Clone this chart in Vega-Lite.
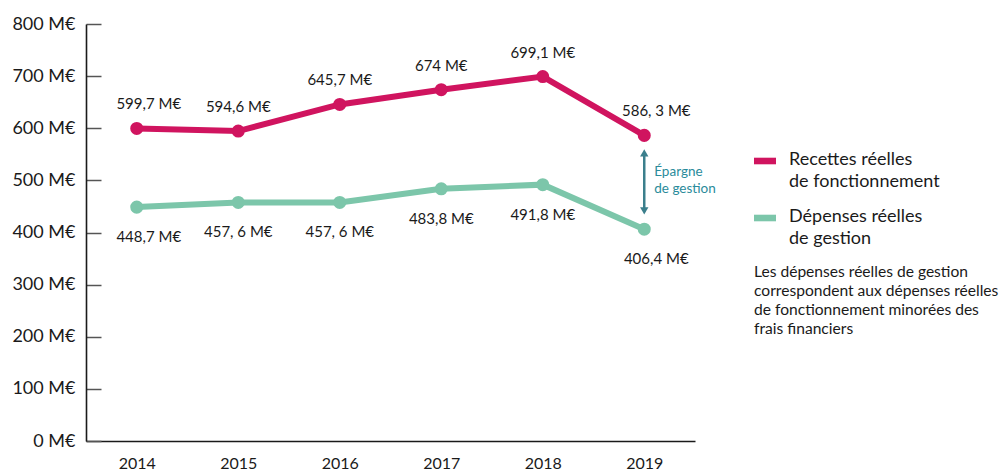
{
  "$schema": "https://vega.github.io/schema/vega-lite/v6.json",
  "width": 609,
  "height": 417,
  "autosize": {"type": "none"},
  "padding": {"left": 86, "top": 24, "right": 310, "bottom": 28},
  "background": "white",
  "config": {"view": {"stroke": null}, "font": "Lato"},
  "title": {
    "text": ["Les dépenses réelles de gestion", "correspondent aux dépenses réelles", "de fonctionnement minorées des", "frais financiers"],
    "anchor": "start",
    "frame": "group",
    "orient": "top",
    "dx": 668,
    "dy": 323,
    "offset": 0,
    "fontSize": 15.6,
    "fontWeight": "normal",
    "lineHeight": 19,
    "color": "#1a1a1a",
    "font": "Lato",
    "baseline": "top"
  },
  "datasets": {
    "series": [
      {"year": "2014", "series": "Recettes réelles|de fonctionnement", "value": 599.7, "label": "599,7 M€"},
      {"year": "2015", "series": "Recettes réelles|de fonctionnement", "value": 594.6, "label": "594,6 M€"},
      {"year": "2016", "series": "Recettes réelles|de fonctionnement", "value": 645.7, "label": "645,7 M€"},
      {"year": "2017", "series": "Recettes réelles|de fonctionnement", "value": 674.0, "label": "674 M€"},
      {"year": "2018", "series": "Recettes réelles|de fonctionnement", "value": 699.1, "label": "699,1 M€"},
      {"year": "2019", "series": "Recettes réelles|de fonctionnement", "value": 586.3, "label": "586, 3 M€"},
      {"year": "2014", "series": "Dépenses réelles|de gestion", "value": 448.7, "label": "448,7 M€"},
      {"year": "2015", "series": "Dépenses réelles|de gestion", "value": 457.6, "label": "457, 6 M€"},
      {"year": "2016", "series": "Dépenses réelles|de gestion", "value": 457.6, "label": "457, 6 M€"},
      {"year": "2017", "series": "Dépenses réelles|de gestion", "value": 483.8, "label": "483,8 M€"},
      {"year": "2018", "series": "Dépenses réelles|de gestion", "value": 491.8, "label": "491,8 M€"},
      {"year": "2019", "series": "Dépenses réelles|de gestion", "value": 406.4, "label": "406,4 M€"}
    ],
    "arrow": [
      {"year": "2019", "top": 549, "bottom": 440}
    ],
    "heads": [
      {"year": "2019", "value": 552.6, "shape": "triangle-up"},
      {"year": "2019", "value": 441.3, "shape": "triangle-down"}
    ],
    "note": [
      {"year": "2019", "value": 500, "text": "Épargne|de gestion"}
    ]
  },
  "encoding": {
    "x": {
      "field": "year",
      "type": "ordinal",
      "scale": {"type": "point", "padding": 0.5},
      "axis": {
        "title": null,
        "labelAngle": 0,
        "ticks": false,
        "domainColor": "#1a1a1a",
        "domainWidth": 1.6,
        "labelFontSize": 16,
        "labelColor": "#1a1a1a",
        "labelPadding": 14,
        "labelBaseline": "top"
      }
    }
  },
  "layer": [
    {
      "data": {"name": "series"},
      "mark": {"type": "line", "strokeWidth": 6},
      "encoding": {
        "y": {
          "field": "value",
          "type": "quantitative",
          "scale": {"domain": [0, 800], "nice": false},
          "axis": {
            "title": null,
            "values": [0, 100, 200, 300, 400, 500, 600, 700, 800],
            "labelExpr": "datum.value + ' M€'",
            "grid": false,
            "domainColor": "#1a1a1a",
            "domainWidth": 1.6,
            "tickColor": "#555555",
            "tickWidth": 1.5,
            "tickSize": -15,
            "labelPadding": 26,
            "labelFontSize": 18,
            "labelColor": "#1a1a1a"
          }
        },
        "color": {
          "field": "series",
          "type": "nominal",
          "scale": {
            "domain": ["Recettes réelles|de fonctionnement", "Dépenses réelles|de gestion"],
            "range": ["#d0145f", "#7cc6aa"]
          },
          "legend": {
            "orient": "none",
            "legendX": 668,
            "legendY": 126,
            "title": null,
            "padding": 0,
            "symbolType": "M-1,-0.3L1,-0.3L1,0.3L-1,0.3Z",
            "symbolSize": 484,
            "symbolStrokeWidth": 0,
            "labelExpr": "split(datum.label, '|')",
            "labelFontSize": 18,
            "labelColor": "#1a1a1a",
            "labelOffset": 13,
            "labelBaseline": "top",
            "rowPadding": 16,
            "labelLimit": 300,
            "encode": {
              "labels": {"update": {"lineHeight": {"value": 22}, "dy": {"value": -10}}},
              "symbols": {"update": {"fill": {"scale": "color", "field": "value"}, "opacity": {"value": 1}}}
            }
          }
        }
      }
    },
    {
      "data": {"name": "series"},
      "mark": {"type": "point", "filled": true, "size": 170, "opacity": 1},
      "encoding": {
        "y": {"field": "value", "type": "quantitative"},
        "color": {"field": "series", "type": "nominal"}
      }
    },
    {
      "data": {"name": "series"},
      "mark": {
        "type": "text",
        "fontSize": 15,
        "color": "#1a1a1a",
        "baseline": "middle",
        "dy": {"expr": "indexof(datum.series, 'Recettes') == 0 ? -24 : 30"},
        "dx": {"expr": "datum.year == '2014' || datum.year == '2019' ? 12 : 0"}
      },
      "encoding": {
        "y": {"field": "value", "type": "quantitative"},
        "text": {"field": "label"}
      }
    },
    {
      "data": {"name": "arrow"},
      "mark": {"type": "rule", "strokeWidth": 2.5, "color": "#3b7f8c"},
      "encoding": {
        "y": {"field": "top", "type": "quantitative"},
        "y2": {"field": "bottom"}
      }
    },
    {
      "data": {"name": "heads"},
      "mark": {"type": "point", "filled": true, "size": 70, "color": "#3b7f8c", "opacity": 1},
      "encoding": {
        "y": {"field": "value", "type": "quantitative"},
        "shape": {"field": "shape", "type": "nominal", "scale": null, "legend": null}
      }
    },
    {
      "data": {"name": "note"},
      "mark": {
        "type": "text",
        "fontSize": 13.5,
        "color": "#2a8b9b",
        "align": "left",
        "baseline": "middle",
        "dx": 10,
        "dy": -8.5,
        "lineBreak": "|",
        "lineHeight": 17
      },
      "encoding": {
        "y": {"field": "value", "type": "quantitative"},
        "text": {"field": "text"}
      }
    }
  ]
}
